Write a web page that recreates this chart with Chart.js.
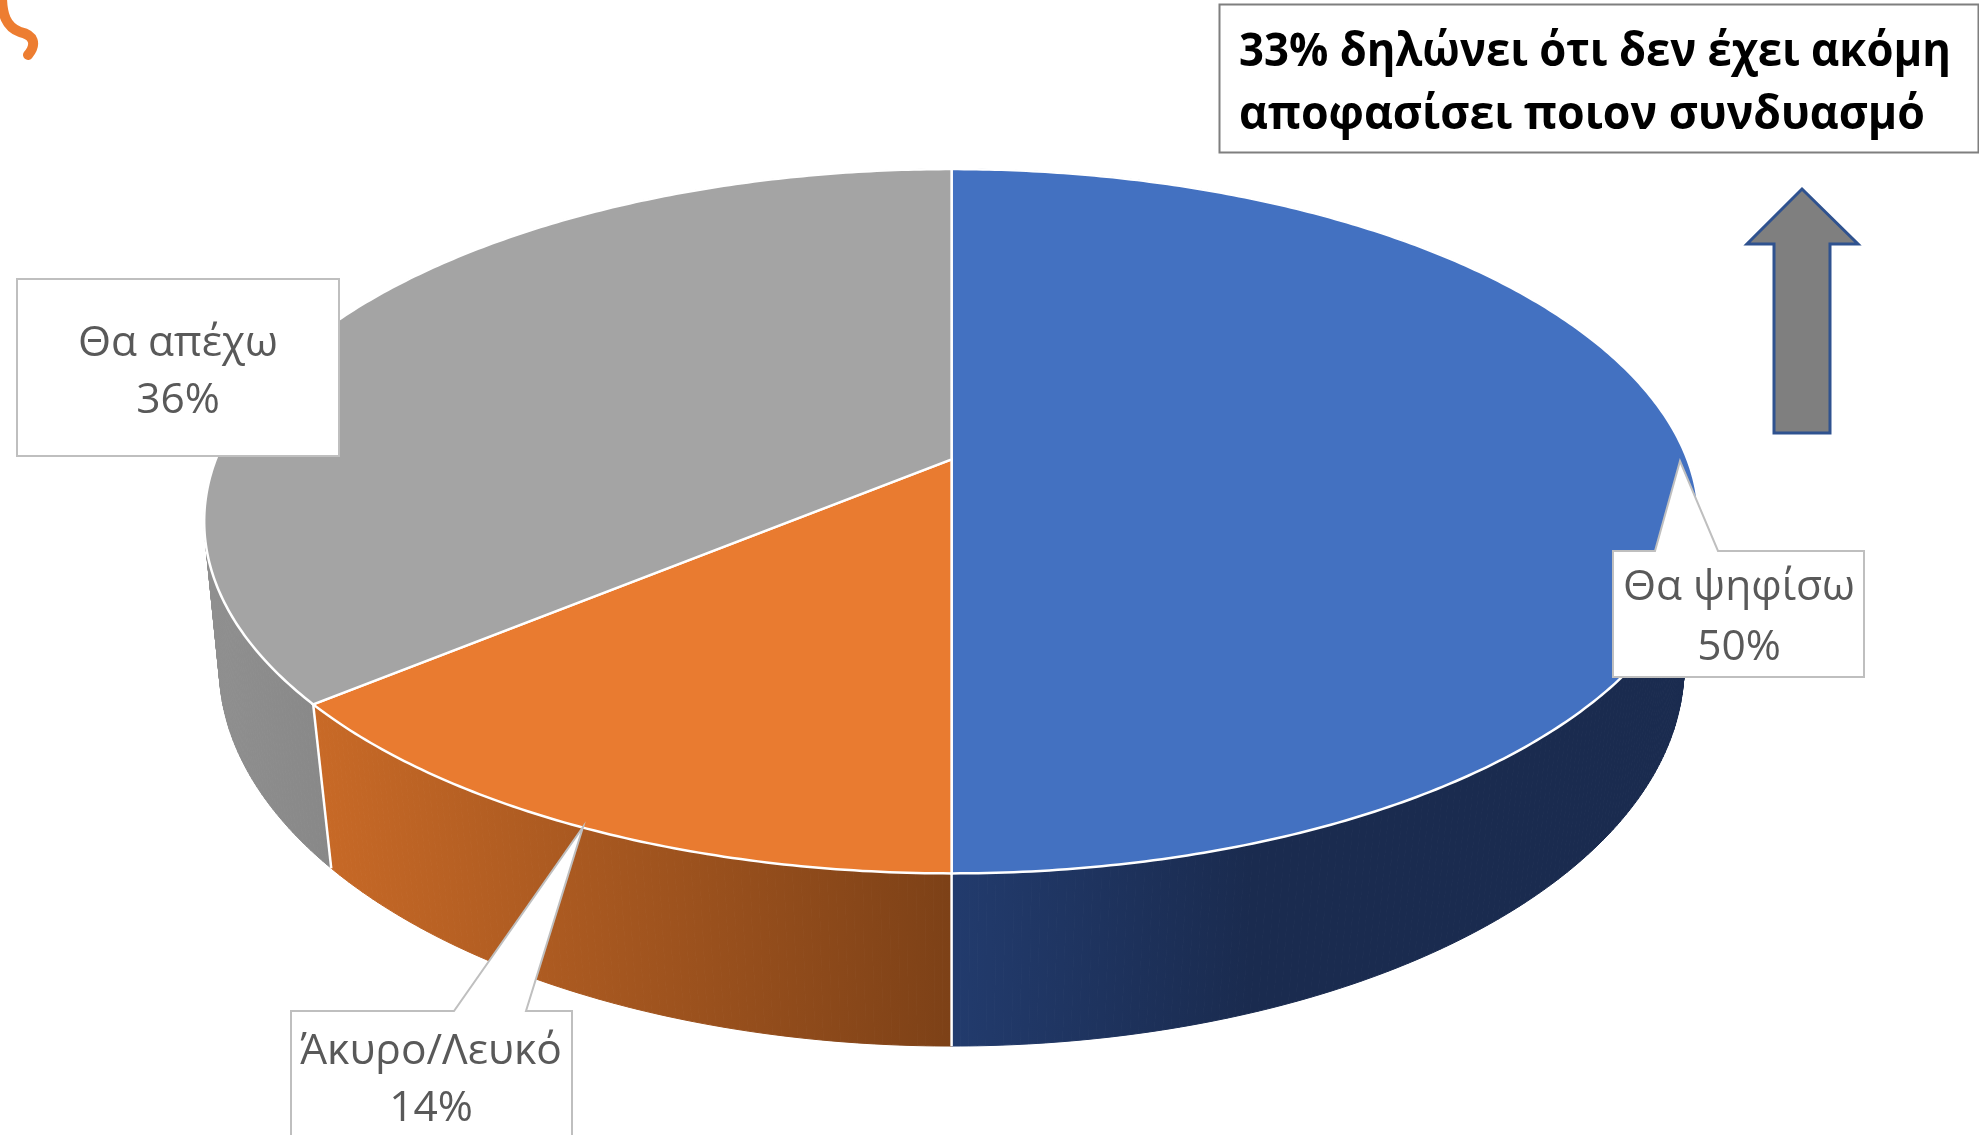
<!DOCTYPE html>
<html lang="el">
<head>
<meta charset="utf-8">
<title>Pie</title>
<script src="https://cdn.jsdelivr.net/npm/chart.js@4/dist/chart.umd.js"></script>
<style>
html,body{margin:0;padding:0;background:#fff;overflow:hidden}
#wrap{position:absolute;left:0;top:0;width:1979px;height:1135px}
</style>
</head>
<body>
<div id="wrap"><canvas id="c"></canvas></div>
<script>
// ---- data ----
const categories = ['Θα ψηφίσω', 'Άκυρο/Λευκό', 'Θα απέχω'];
const values = [50, 14, 36];
const titleLines = ['33% δηλώνει ότι δεν έχει ακόμη', 'αποφασίσει ποιον συνδυασμό'];

// ---- style ----
const faceColors = ['#4371c1', '#e97b30', '#a4a4a4'];
const wallStops = [['#223b6d', '#1a2b4f'], ['#c96a27', '#7d4117'], ['#8f8f8f', '#888888']];
const wallRanges = [[951, 1250], [310, 951], [215, 330]];

// ---- perspective of the disc (top rim and bottom rim) ----
const topRim = {cx: 951.6, cy: 459.4, a: 735.8, b: 341.3, k: 0.1756};
const botRim = {cx: 951.6, cy: 605.8, a: 723.0, b: 369.8, k: 0.16};
const project = (r, ang) => {
  const u = Math.cos(ang), v = Math.sin(ang), w = 1 - r.k * v;
  return [r.cx + r.a * u / w, r.cy + r.b * v / w];
};

// ---- callout layout ----
const callouts = [
  {box: [1613, 551, 251, 126], tip: [1680, 461], base: [1655, 1718], tx: 1739, ty: [600, 660]},
  {box: [291, 1011, 281, 200], tip: [583, 827], base: [454, 526], tx: 431, ty: [1064, 1121]},
  {box: [17, 279, 322, 177], tip: null, base: null, tx: 178, ty: [356, 413]}
];

function arcPts(r, a0, a1) {
  const n = Math.max(2, Math.ceil(Math.abs(a1 - a0) / 0.01)), pts = [];
  for (let i = 0; i <= n; i++) pts.push(project(r, a0 + (a1 - a0) * i / n));
  return pts;
}
function trace(ctx, pts) {
  pts.forEach((p, i) => i ? ctx.lineTo(p[0], p[1]) : ctx.moveTo(p[0], p[1]));
}

const disc3d = {
  id: 'disc3d',
  beforeDatasetsDraw(chart) {
    const ctx = chart.ctx, arcs = chart.getDatasetMeta(0).data;
    ctx.save();
    // side walls, back to front, as strips so the silhouette tangent is filled
    [2, 1, 0].forEach(i => {
      const el = arcs[i];
      const top = arcPts(topRim, el.startAngle, el.endAngle);
      const bot = arcPts(botRim, el.startAngle, el.endAngle);
      const g = ctx.createLinearGradient(wallRanges[i][0], 0, wallRanges[i][1], 0);
      g.addColorStop(0, wallStops[i][0]); g.addColorStop(1, wallStops[i][1]);
      ctx.fillStyle = g; ctx.strokeStyle = g; ctx.lineWidth = 1;
      for (let j = 0; j < top.length - 1; j++) {
        ctx.beginPath();
        trace(ctx, [top[j], top[j + 1], bot[j + 1], bot[j]]);
        ctx.closePath(); ctx.fill(); ctx.stroke();
      }
    });
    // seams between walls
    ctx.strokeStyle = '#fff'; ctx.lineWidth = 2.5;
    [0, 1].forEach(i => {
      const a = arcs[i].endAngle, p = project(topRim, a), q = project(botRim, a);
      ctx.beginPath(); ctx.moveTo(p[0], p[1]); ctx.lineTo(q[0], q[1]); ctx.stroke();
    });
    // top faces
    arcs.forEach((el, i) => {
      ctx.beginPath();
      const c = [topRim.cx, topRim.cy];
      trace(ctx, [c].concat(arcPts(topRim, el.startAngle, el.endAngle)));
      ctx.closePath();
      ctx.fillStyle = faceColors[i]; ctx.fill();
      ctx.strokeStyle = '#fff'; ctx.lineWidth = 2.5; ctx.stroke();
    });
    ctx.restore();
    return false;
  },
  afterDraw(chart) {
    const ctx = chart.ctx;
    ctx.save();
    // callouts
    callouts.forEach((c, i) => {
      const [x, y, w, h] = c.box;
      ctx.beginPath();
      ctx.moveTo(x, y);
      if (c.tip) { ctx.lineTo(c.base[0], y); ctx.lineTo(c.tip[0], c.tip[1]); ctx.lineTo(c.base[1], y); }
      ctx.lineTo(x + w, y); ctx.lineTo(x + w, y + h); ctx.lineTo(x, y + h); ctx.closePath();
      ctx.fillStyle = '#fff'; ctx.fill();
      ctx.strokeStyle = '#bfbfbf'; ctx.lineWidth = 2; ctx.stroke();
      ctx.fillStyle = '#595959'; ctx.textAlign = 'center'; ctx.textBaseline = 'alphabetic';
      ctx.font = '42.5px "Open Sans"';
      ctx.fillText(categories[i], c.tx, c.ty[0]);
      ctx.fillText(values[i] + '%', c.tx, c.ty[1]);
    });
    // note box
    ctx.fillStyle = '#fff'; ctx.strokeStyle = '#7f7f7f'; ctx.lineWidth = 2;
    ctx.beginPath(); ctx.rect(1219.5, 4.5, 759, 148); ctx.fill(); ctx.stroke();
    ctx.fillStyle = '#000'; ctx.textAlign = 'left';
    ctx.font = 'bold 46px "Open Sans"';
    ctx.fillText(titleLines[0], 1239, 66, 712);
    ctx.fillText(titleLines[1], 1239, 129, 686);
    // arrow
    ctx.beginPath();
    trace(ctx, [[1802, 189], [1858, 244], [1830, 244], [1830, 433], [1774, 433], [1774, 244], [1747, 244]]);
    ctx.closePath();
    ctx.fillStyle = '#7f7f7f'; ctx.fill();
    ctx.strokeStyle = '#2f528f'; ctx.lineWidth = 3; ctx.stroke();
    // corner squiggle
    ctx.beginPath();
    ctx.moveTo(2, -4);
    ctx.bezierCurveTo(2, 14, 6, 27, 20, 32);
    ctx.bezierCurveTo(34, 35, 37, 44, 28, 55);
    ctx.strokeStyle = '#ed7d31'; ctx.lineWidth = 10; ctx.lineCap = 'round'; ctx.stroke();
    ctx.restore();
  }
};

new Chart(document.getElementById('c'), {
  type: 'pie',
  data: {
    labels: categories,
    datasets: [{data: values, backgroundColor: faceColors, borderColor: '#fff', borderWidth: 2}]
  },
  options: {
    responsive: true,
    maintainAspectRatio: false,
    animation: false,
    plugins: {legend: {display: false}, tooltip: {enabled: false}}
  },
  plugins: [disc3d]
});
</script>
</body>
</html>
